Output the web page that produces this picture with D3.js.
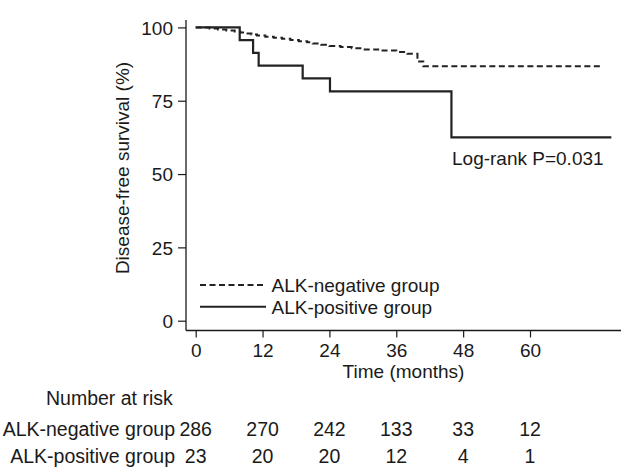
<!DOCTYPE html>
<html><head><meta charset="utf-8">
<script src="https://cdn.jsdelivr.net/npm/d3@7"></script>
<style>
html,body{margin:0;padding:0;background:#fff;}
svg{display:block;font-family:"Liberation Sans",Arial,Helvetica,sans-serif;}
text{fill:#1a1a1a;}
</style></head>
<body><svg id="c" width="638" height="468"></svg>
<script>
// ---- data ----
const negTimes = [0, 2.5, 4, 5.5, 7, 8, 9, 10, 11, 12.5, 14, 15.5, 17, 18.5, 20, 21, 22.5, 24, 26, 28, 30, 33, 36, 38, 39.8, 40.85, 73.1];
const negSurv  = [100, 99.65, 99.3, 98.95, 98.6, 98.25, 97.9, 97.55, 97.2, 96.85, 96.5, 96.1, 95.7, 95.3, 94.9, 94.5, 94.1, 93.7, 93.3, 92.9, 92.5, 92.1, 91.6, 91.0, 88.4, 86.75, 86.75];
const posTimes = [0, 7.9, 10.3, 11.3, 19.2, 24.1, 45.9, 74.6];
const posSurv  = [100, 95.65, 91.3, 86.96, 82.6, 78.2, 62.5, 62.5];
const xTicks = [0, 12, 24, 36, 48, 60];
const yTicks = [0, 25, 50, 75, 100];
const riskTimes = [0, 12, 24, 36, 48, 60];
const riskNeg = [286, 270, 242, 133, 33, 12];
const riskPos = [23, 20, 20, 12, 4, 1];
const groupNames = ["ALK-negative group", "ALK-positive group"];

const svg = d3.select("#c");
const x = d3.scaleLinear().domain([0, 60]).range([195.7, 530]);
const y = d3.scaleLinear().domain([0, 100]).range([320.7, 27.4]);
const xAxisY = 330.5, yAxisX = 186;
const ink = "#1a1a1a";
const fs = 19, fsRisk = 19.5;

// y axis
const yAxis = svg.append("g").attr("transform", `translate(${yAxisX},0)`)
  .call(d3.axisLeft(y).tickValues(yTicks).tickSize(8).tickPadding(5).tickSizeOuter(0));
yAxis.select(".domain").remove();
yAxis.append("line").attr("x1",0).attr("x2",0).attr("y1",20).attr("y2",xAxisY).attr("stroke",ink).attr("stroke-width",1.3);
yAxis.selectAll(".tick line").attr("stroke", ink).attr("stroke-width",1.2);
yAxis.selectAll(".tick text").attr("font-size", fs).attr("fill", ink).attr("dy","0.35em");

// x axis
const xAxis = svg.append("g").attr("transform", `translate(0,${xAxisY})`)
  .call(d3.axisBottom(x).tickValues(xTicks).tickSize(7).tickPadding(6).tickSizeOuter(0));
xAxis.select(".domain").remove();
xAxis.append("line").attr("x1",yAxisX).attr("x2",621).attr("y1",0).attr("y2",0).attr("stroke",ink).attr("stroke-width",1.3);
xAxis.selectAll(".tick line").attr("stroke", ink).attr("stroke-width",1.2);
xAxis.selectAll(".tick text").attr("font-size", fs).attr("fill", ink).attr("dy","0.72em");

// axis titles
svg.append("text").attr("transform","translate(129,168) rotate(-90)").attr("text-anchor","middle")
  .attr("font-size",fs).text("Disease-free survival (%)");
svg.append("text").attr("x",403.5).attr("y",378).attr("text-anchor","middle")
  .attr("font-size",fs).text("Time (months)");

// curves
const line = d3.line().x(d=>x(d[0])).y(d=>y(d[1])).curve(d3.curveStepAfter);
svg.append("path").datum(negTimes.map((t,i)=>[t,negSurv[i]]))
  .attr("d", line).attr("fill","none").attr("stroke","#222").attr("stroke-width",2)
  .attr("stroke-dasharray","6,3.5");
svg.append("path").datum(posTimes.map((t,i)=>[t,posSurv[i]]))
  .attr("d", line).attr("fill","none").attr("stroke","#222").attr("stroke-width",2.2);

// annotation
svg.append("text").attr("x",452).attr("y",165).attr("font-size",fs).text("Log-rank P=0.031");

// legend
const leg = svg.append("g");
[["6,3.5",285],[null,306.7]].forEach(([dash,ly],i)=>{
  const l = leg.append("line").attr("x1",200).attr("x2",266).attr("y1",ly).attr("y2",ly)
    .attr("stroke","#222").attr("stroke-width",2);
  if (dash) l.attr("stroke-dasharray",dash);
  leg.append("text").attr("x",271.5).attr("y",ly+7).attr("font-size",fs).text(groupNames[i]);
});

// risk table
svg.append("text").attr("x",46).attr("y",405).attr("font-size",fsRisk).text("Number at risk");
[[riskNeg,436],[riskPos,463]].forEach(([vals,ry],i)=>{
  svg.append("text").attr("x",175).attr("y",ry).attr("text-anchor","end").attr("font-size",fsRisk).text(groupNames[i]);
  svg.selectAll(null).data(vals).enter().append("text")
    .attr("x",(d,j)=>x(riskTimes[j])).attr("y",ry).attr("text-anchor","middle").attr("font-size",fsRisk)
    .text(d=>d);
});
</script></body></html>
